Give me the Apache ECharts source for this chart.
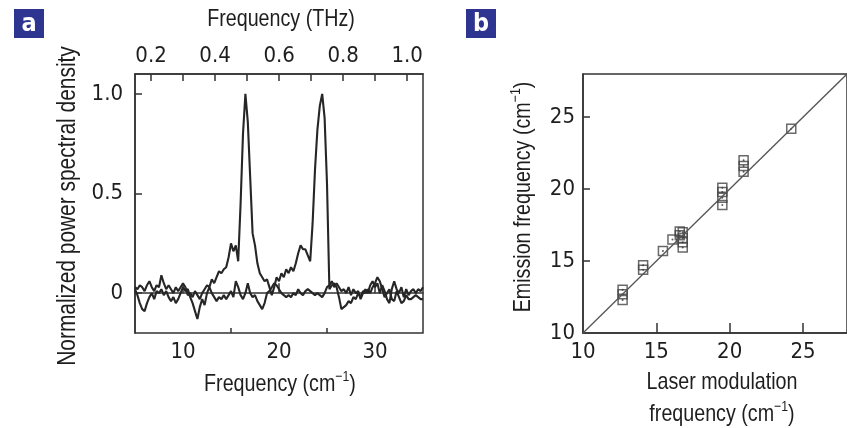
<!DOCTYPE html>
<html>
<head>
<meta charset="utf-8">
<script src="https://cdn.jsdelivr.net/npm/echarts@6.0.0/dist/echarts.min.js"></script>
<style>
  html, body { margin: 0; padding: 0; background: #fff; }
  #chart { width: 847px; height: 428px; }
</style>
</head>
<body>
<div id="chart"></div>
<script>
// panel a: spectra, x in cm^-1
var freqA = [5.00, 5.25, 5.50, 5.75, 6.00, 6.25, 6.50, 6.75, 7.00, 7.25, 7.50, 7.75, 8.00, 8.25, 8.50, 8.75,
  9.00, 9.25, 9.50, 9.75, 10.00, 10.25, 10.50, 10.75, 11.00, 11.25, 11.50, 11.75, 12.00, 12.25, 12.50, 12.75,
  13.00, 13.25, 13.50, 13.75, 14.00, 14.25, 14.50, 14.75, 15.00, 15.25, 15.50, 15.75, 16.00, 16.25, 16.50, 16.75,
  17.00, 17.25, 17.50, 17.75, 18.00, 18.25, 18.50, 18.75, 19.00, 19.25, 19.50, 19.75, 20.00, 20.25, 20.50, 20.75,
  21.00, 21.25, 21.50, 21.75, 22.00, 22.25, 22.50, 22.75, 23.00, 23.25, 23.50, 23.75, 24.00, 24.25, 24.50, 24.75,
  25.00, 25.25, 25.50, 25.75, 26.00, 26.25, 26.50, 26.75, 27.00, 27.25, 27.50, 27.75, 28.00, 28.25, 28.50, 28.75,
  29.00, 29.25, 29.50, 29.75, 30.00, 30.25, 30.50, 30.75, 31.00, 31.25, 31.50, 31.75, 32.00, 32.25, 32.50, 32.75,
  33.00, 33.25, 33.50, 33.75, 34.00, 34.25, 34.50, 34.75, 35.00];

// trace with the two emission peaks
var psdPeaks = [0.03, 0.02, 0.04, 0.03, 0.01, 0.04, 0.06, 0.03, 0.01, 0.04, 0.03, 0.09, 0.05, 0.02, 0.04, 0.02,
  0.00, 0.03, 0.01, 0.03, 0.05, 0.03, -0.01, 0.00, -0.02, 0.01, -0.01, -0.03, 0.00, 0.02, 0.04, 0.03,
  0.07, 0.05, 0.08, 0.11, 0.10, 0.12, 0.13, 0.18, 0.25, 0.21, 0.24, 0.16, 0.45, 0.80, 1.00, 0.86,
  0.58, 0.30, 0.24, 0.15, 0.10, 0.08, 0.06, 0.07, 0.03, -0.01, 0.03, 0.08, 0.06, 0.10, 0.08, 0.12,
  0.10, 0.13, 0.11, 0.15, 0.20, 0.24, 0.22, 0.22, 0.19, 0.16, 0.35, 0.62, 0.82, 0.94, 1.00, 0.88,
  0.55, 0.02, 0.04, 0.05, 0.03, -0.02, -0.08, -0.07, -0.06, -0.04, -0.05, -0.02, -0.03, 0.00, -0.02, 0.01,
  0.00, 0.02, 0.00, 0.03, 0.05, 0.08, 0.06, 0.02, -0.02, 0.00, 0.02, -0.03, -0.04, 0.01, -0.02, -0.05,
  -0.04, -0.01, -0.03, -0.03, -0.02, -0.01, -0.02, -0.03, -0.03];

// background trace
var psdFlat = [0.02, -0.01, -0.05, -0.08, -0.09, -0.05, -0.02, 0.00, -0.03, 0.01, 0.00, 0.02, -0.01, 0.01, -0.02, -0.04,
  -0.02, -0.05, -0.03, 0.00, 0.03, 0.01, 0.02, -0.02, -0.05, -0.09, -0.13, -0.07, -0.03, -0.06, 0.00, 0.03,
  0.00, -0.02, -0.04, -0.02, -0.03, -0.01, -0.03, -0.01, 0.01, -0.02, 0.06, 0.03, -0.01, -0.03, 0.00, 0.05,
  0.00, -0.02, -0.01, -0.04, -0.06, -0.08, -0.05, 0.00, 0.01, 0.03, 0.05, 0.04, 0.02, 0.00, -0.01, -0.02,
  -0.01, -0.02, 0.00, -0.01, 0.02, 0.00, -0.01, 0.01, 0.02, 0.01, 0.00, -0.01, 0.00, -0.01, -0.02, 0.00,
  0.03, 0.04, 0.06, 0.03, 0.05, 0.03, 0.01, 0.02, 0.00, 0.03, -0.01, 0.02, 0.00, 0.01, -0.03, 0.00,
  0.02, 0.00, 0.04, 0.06, 0.03, 0.05, 0.00, 0.04, 0.01, -0.03, -0.05, 0.02, 0.06, 0.02, 0.00, 0.03,
  -0.02, 0.02, -0.01, 0.01, 0.02, 0.00, 0.02, 0.01, 0.03];

var ticksA = [10, 20, 30];
var minorTicksA = [15, 25];
var ticksTHz = [0.2, 0.3, 0.4, 0.5, 0.6, 0.7, 0.8, 0.9, 1.0];
var labelsTHz = [0.2, 0.4, 0.6, 0.8, 1.0];
var ticksPsd = [0, 0.5, 1.0];

// panel b: emission vs laser modulation frequency (cm^-1)
var laserFreq = [12.7, 12.7, 12.7, 14.1, 14.1, 15.45, 16.1, 16.6, 16.6, 16.8, 16.8, 16.8, 16.8,
  19.5, 19.5, 19.5, 19.5, 20.95, 20.95, 20.95, 24.2];
var emissionFreq = [13.0, 12.7, 12.3, 14.7, 14.4, 15.7, 16.5, 17.05, 16.8, 17.0, 16.6, 16.3, 15.95,
  20.1, 19.8, 19.4, 18.9, 22.0, 21.6, 21.2, 24.2];
var fitLine = [[10, 10], [28, 28]];
var ticksB = [15, 20, 25];
var labelsB = [10, 15, 20, 25];

var CM_TO_THZ = 0.0299792;
var TICK_FONT = '"DejaVu Sans Condensed", "Liberation Sans", sans-serif';
var TITLE_FONT = '"Liberation Sans", Arial, sans-serif';
var INK = '#1e1e1e';
var AX = '#333';

function lbl(extra) {
  return Object.assign({ fontFamily: TICK_FONT, fontSize: 22, color: INK }, extra || {});
}

var chart = echarts.init(document.getElementById('chart'), null, { renderer: 'canvas' });

var supRich = { sup: { fontFamily: TITLE_FONT, fontSize: 15, color: INK, padding: [0, 0, 14, 0] } };

// axis titles: Helvetica-condensed look via horizontally squeezed Liberation Sans
function title(text, x, y, rot, size) {
  size = size || 24;
  return {
    type: 'text', x: x, y: y, rotation: rot || 0, scaleX: 0.82, z: 10,
    style: {
      text: text, fill: INK, font: size + 'px ' + TITLE_FONT,
      fontFamily: TITLE_FONT, fontSize: size,
      align: 'center', verticalAlign: 'middle',
      textAlign: 'center', textVerticalAlign: 'middle',
      rich: supRich
    }
  };
}

function badge(letter, x, y) {
  return [
    { type: 'rect', shape: { x: x, y: y, width: 30, height: 29 }, style: { fill: '#2e3590' } },
    {
      type: 'text', x: x + 15, y: y + 15,
      style: {
        text: letter, fill: '#fff', font: 'bold 25px ' + TICK_FONT,
        align: 'center', verticalAlign: 'middle', textAlign: 'center', textVerticalAlign: 'middle'
      }
    }
  ];
}

chart.setOption({
  animation: false,
  backgroundColor: '#fff',
  grid: [
    { left: 135, top: 74, width: 288, height: 259, show: true, borderColor: AX, borderWidth: 1.5, backgroundColor: 'transparent' },
    { left: 135, top: 74, width: 288, height: 259, show: false },
    { left: 583, top: 74, width: 278, height: 259, show: true, borderColor: AX, borderWidth: 1.5, backgroundColor: 'transparent' }
  ],
  xAxis: [
    {
      type: 'value', gridIndex: 0, min: 5, max: 35, position: 'bottom',
      axisLine: { show: true, lineStyle: { color: AX, width: 1.5 } },
      axisTick: { show: true, inside: true, length: 10, customValues: ticksA, lineStyle: { color: AX, width: 1.5 } },
      axisLabel: lbl({ customValues: ticksA, margin: 8 }),
      splitLine: { show: false }
    },
    {
      type: 'value', gridIndex: 0, min: 5 * CM_TO_THZ, max: 35 * CM_TO_THZ, position: 'top',
      axisLine: { show: true, lineStyle: { color: AX, width: 1.5 } },
      axisTick: { show: true, inside: true, length: 7, customValues: ticksTHz, lineStyle: { color: AX, width: 1.5 } },
      axisLabel: lbl({ customValues: labelsTHz, margin: 7, formatter: function (v) { return v.toFixed(1); } }),
      splitLine: { show: false }
    },
    {
      type: 'value', gridIndex: 1, min: 5, max: 35, position: 'bottom',
      axisLine: { show: false },
      axisTick: { show: true, inside: true, length: 5, customValues: minorTicksA, lineStyle: { color: AX, width: 1.5 } },
      axisLabel: { show: false },
      splitLine: { show: false }
    },
    {
      type: 'value', gridIndex: 2, min: 10, max: 28, position: 'bottom',
      axisLine: { show: true, lineStyle: { color: AX, width: 1.5 } },
      axisTick: { show: true, inside: true, length: 10, customValues: ticksB, lineStyle: { color: AX, width: 1.5 } },
      axisLabel: lbl({ customValues: labelsB, margin: 8 }),
      splitLine: { show: false }
    }
  ],
  yAxis: [
    {
      type: 'value', gridIndex: 0, min: -0.2, max: 1.1,
      axisLine: { show: true, lineStyle: { color: AX, width: 1.5 } },
      axisTick: { show: true, inside: true, length: 7, customValues: ticksPsd, lineStyle: { color: AX, width: 1.5 } },
      axisLabel: lbl({ customValues: ticksPsd, margin: 12, formatter: function (v) { return v === 0 ? '0' : v.toFixed(1); } }),
      splitLine: { show: false }
    },
    { type: 'value', gridIndex: 1, show: false, min: 0, max: 1 },
    {
      type: 'value', gridIndex: 2, min: 10, max: 28,
      axisLine: { show: true, lineStyle: { color: AX, width: 1.5 } },
      axisTick: { show: true, inside: true, length: 7, customValues: ticksB, lineStyle: { color: AX, width: 1.5 } },
      axisLabel: lbl({ customValues: labelsB, margin: 8 }),
      splitLine: { show: false }
    }
  ],
  series: [
    {
      type: 'line', xAxisIndex: 0, yAxisIndex: 0, showSymbol: false, symbol: 'none',
      lineStyle: { color: '#262626', width: 2.1 },
      data: freqA.map(function (x, i) { return [x, psdFlat[i]]; })
    },
    {
      type: 'line', xAxisIndex: 0, yAxisIndex: 0, showSymbol: false, symbol: 'none',
      lineStyle: { color: '#262626', width: 2.1 },
      data: freqA.map(function (x, i) { return [x, psdPeaks[i]]; })
    },
    {
      type: 'line', xAxisIndex: 3, yAxisIndex: 2, showSymbol: false, symbol: 'none',
      lineStyle: { color: '#555', width: 1.3 },
      data: fitLine
    },
    {
      type: 'scatter', xAxisIndex: 3, yAxisIndex: 2, symbol: 'rect', symbolSize: 9,
      itemStyle: { color: 'rgba(255,255,255,0)', borderColor: '#444', borderWidth: 1.5 },
      data: laserFreq.map(function (x, i) { return [x, emissionFreq[i]]; })
    },
    {
      type: 'scatter', xAxisIndex: 3, yAxisIndex: 2, symbol: 'circle', symbolSize: 2,
      itemStyle: { color: '#333' },
      data: laserFreq.map(function (x, i) { return [x, emissionFreq[i]]; })
    }
  ],
  graphic: [].concat(
    badge('a', 14, 9),
    badge('b', 466, 9),
    [
      title('Frequency (THz)', 281, 19),
      title('Normalized power spectral density', 68, 206, Math.PI / 2, 25.5),
      title('Frequency (cm{sup|−1})', 280, 384),
      title('Emission frequency (cm{sup|−1})', 523, 197, Math.PI / 2),
      title('Laser modulation', 722, 382),
      title('frequency (cm{sup|−1})', 722, 414)
    ]
  )
});
</script>
</body>
</html>
